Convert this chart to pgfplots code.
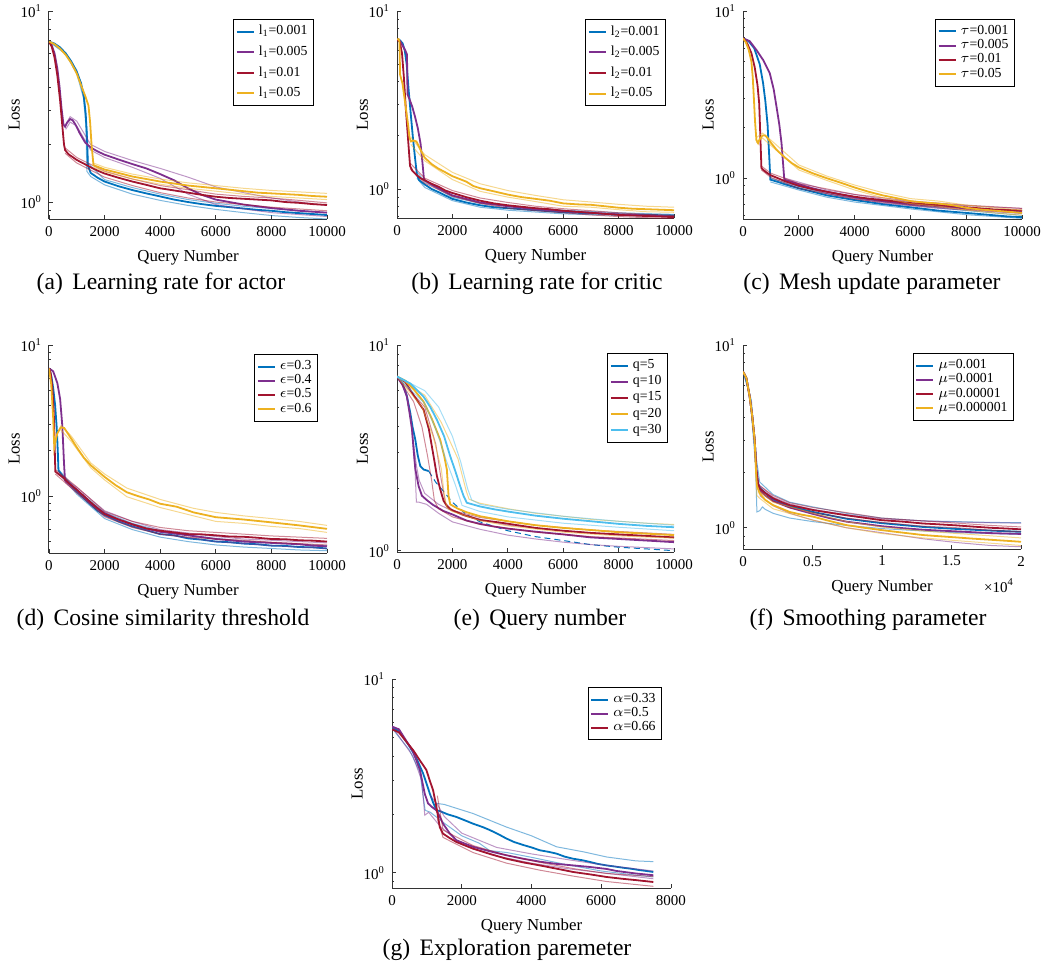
\documentclass[border=0pt]{standalone}
\usepackage{pgfplots}
\pgfplotsset{compat=1.18}
\usepackage{fontspec}
\setmainfont{Liberation Serif}

\definecolor{c1}{RGB}{0,114,189}
\definecolor{c2}{RGB}{126,47,142}
\definecolor{c3}{RGB}{162,20,47}
\definecolor{c4}{RGB}{237,177,32}
\definecolor{c5}{RGB}{77,190,238}

\pgfplotsset{
  every axis/.append style={
    scale only axis, xmin=0, scaled x ticks=false,
    axis x line*=bottom, axis y line*=left,
    axis line style={black!80, line width=0.5pt},
    tick align=inside, major tick length=2pt, minor tick length=1.2pt,
    tick style={black!80, line width=0.4pt},
    ytick={1,10}, yticklabels={10\textsuperscript{0},10\textsuperscript{1}},
    minor ytick={0.4,0.5,0.6,0.7,0.8,0.9,2,3,4,5,6,7,8,9},
    xticklabel style={font=\fontsize{7.5}{8}\selectfont},
    yticklabel style={font=\fontsize{7.5}{8}\selectfont},
    label style={font=\fontsize{8.4}{9}\selectfont},
    xlabel={Query Number}, ylabel={Loss},
    ylabel style={at={(axis description cs:-0.125,0.5)}, anchor=center},
    legend style={font=\fontsize{6.9}{7.5}\selectfont, draw=black, line width=0.5pt,
      anchor=north east, inner sep=1pt, row sep=-3pt,
      cells={anchor=west, inner xsep=1.5pt}},
  },
  every axis plot/.append style={line width=0.9pt},
  tenk/.style={xmax=10000, xtick={0,2000,4000,6000,8000,10000},
    xticklabels={0,2000,4000,6000,8000,10000}},
  bd/.style={line width=0.5pt, opacity=0.5},
}
\pgfplotsset{legend image code/.code={\draw[#1, line width=1pt, opacity=1] (0pt,0pt) -- (8.5pt,0pt);}}

\begin{document}
\begin{tikzpicture}
\useasboundingbox (0pt,0pt) rectangle (521pt,-482.5pt);

% (a)
\begin{semilogyaxis}[tenk, at={(24.5pt,-109.5pt)}, anchor=south west, width=139pt, height=104pt,
  ymin=0.815, ymax=10, legend style={at={(0.953,0.962)}, row sep=0pt}]
\addplot[forget plot,bd,color=c1] coordinates {(0,6.92)(600,6.05)(1000,4.9)(1250,3.7)(1380,2.3)(1400,1.6)(2000,1.31)(3000,1.19)(4000,1.1)(5000,1.03)(6000,0.985)(7000,0.95)(8000,0.925)(9000,0.9)(10000,0.88)};
\addplot[forget plot,bd,color=c1] coordinates {(0,6.92)(600,5.95)(1000,4.7)(1240,3.5)(1330,2.5)(1360,1.45)(1500,1.36)(2000,1.23)(3000,1.1)(4000,1.02)(5000,0.96)(6000,0.915)(7000,0.88)(8000,0.85)(9000,0.83)(10000,0.815)};
\addplot[color=c1] coordinates {(0,6.92)(200,6.75)(400,6.45)(600,6.0)(800,5.45)(1000,4.8)(1150,4.2)(1250,3.6)(1320,2.9)(1370,2.1)(1400,1.55)(1500,1.42)(1750,1.34)(2000,1.28)(2500,1.21)(3000,1.155)(3500,1.11)(4000,1.07)(4500,1.03)(5000,1.0)(5500,0.975)(6000,0.955)(6500,0.94)(7000,0.925)(7500,0.91)(8000,0.9)(8500,0.885)(9000,0.875)(9500,0.865)(10000,0.855)};
\addlegendentry{l\textsubscript{1}=0.001}
\addplot[forget plot,bd,color=c2] coordinates {(600,2.55)(760,2.8)(1000,2.65)(1500,2.0)(2000,1.84)(3000,1.65)(4000,1.5)(5000,1.35)(6000,1.2)(7000,1.12)(8000,1.05)(9000,1.0)(10000,0.96)};
\addplot[forget plot,bd,color=c2] coordinates {(600,2.4)(760,2.62)(1000,2.5)(1500,1.87)(2000,1.71)(3000,1.52)(4000,1.33)(5000,1.1)(6000,0.97)(7000,0.92)(8000,0.88)(9000,0.86)(10000,0.84)};
\addplot[color=c2] coordinates {(0,6.92)(100,6.6)(200,6.0)(300,5.0)(380,4.0)(450,3.1)(520,2.55)(580,2.48)(650,2.6)(760,2.72)(850,2.68)(950,2.55)(1100,2.3)(1300,2.05)(1500,1.93)(1750,1.84)(2000,1.77)(2500,1.67)(3000,1.58)(3500,1.5)(4000,1.4)(4500,1.3)(5000,1.18)(5500,1.09)(6000,1.03)(7000,0.97)(8000,0.93)(9000,0.9)(10000,0.88)};
\addlegendentry{l\textsubscript{1}=0.005}
\addplot[forget plot,bd,color=c3] coordinates {(580,1.92)(1000,1.71)(2000,1.45)(3000,1.32)(4000,1.22)(5000,1.16)(6000,1.1)(7000,1.07)(8000,1.05)(9000,1.02)(10000,0.99)};
\addplot[forget plot,bd,color=c3] coordinates {(580,1.8)(1000,1.6)(2000,1.35)(3000,1.22)(4000,1.12)(5000,1.05)(6000,1.0)(7000,0.97)(8000,0.94)(9000,0.92)(10000,0.9)};
\addplot[color=c3] coordinates {(0,6.92)(100,6.5)(200,5.7)(300,4.6)(400,3.4)(480,2.5)(540,2.0)(580,1.87)(700,1.78)(850,1.72)(1000,1.66)(1250,1.59)(1500,1.52)(1750,1.46)(2000,1.41)(2500,1.34)(3000,1.28)(3500,1.23)(4000,1.18)(4500,1.15)(5000,1.12)(5500,1.09)(6000,1.066)(6500,1.05)(7000,1.04)(7500,1.03)(8000,1.02)(8500,1.0)(9000,0.99)(9500,0.975)(10000,0.965)};
\addlegendentry{l\textsubscript{1}=0.01}
\addplot[forget plot,bd,color=c4] coordinates {(1600,1.6)(2000,1.52)(3000,1.4)(4000,1.32)(5000,1.26)(6000,1.22)(7000,1.18)(8000,1.15)(9000,1.13)(10000,1.11)};
\addplot[forget plot,bd,color=c4] coordinates {(1600,1.52)(2000,1.44)(3000,1.32)(4000,1.24)(5000,1.18)(6000,1.14)(7000,1.1)(8000,1.07)(9000,1.05)(10000,1.03)};
\addplot[color=c4] coordinates {(0,6.92)(200,6.7)(400,6.35)(600,5.9)(800,5.35)(1000,4.7)(1150,4.1)(1300,3.6)(1420,3.2)(1480,2.6)(1530,2.0)(1600,1.56)(1800,1.52)(2000,1.48)(2500,1.42)(3000,1.36)(3500,1.32)(4000,1.28)(4500,1.25)(5000,1.22)(5500,1.2)(6000,1.18)(6500,1.16)(7000,1.14)(7500,1.12)(8000,1.11)(8500,1.1)(9000,1.09)(9500,1.075)(10000,1.066)};
\addlegendentry{l\textsubscript{1}=0.05}
\end{semilogyaxis}

% (b)
\begin{semilogyaxis}[tenk, at={(198.5pt,-109pt)}, anchor=south west, width=138.5pt, height=103.5pt,
  ymin=0.687, ymax=10, legend style={at={(0.971,0.961)}, row sep=0pt}]
\addplot[forget plot,bd,color=c1] coordinates {(720,1.25)(1000,1.1)(2000,0.9)(3000,0.83)(4000,0.8)(6000,0.76)(8000,0.735)(10000,0.72)};
\addplot[forget plot,bd,color=c1] coordinates {(720,1.15)(1000,1.02)(2000,0.86)(3000,0.79)(4000,0.76)(6000,0.725)(8000,0.71)(10000,0.70)};
\addplot[color=c1] coordinates {(0,6.93)(100,6.85)(200,6.6)(280,6.0)(350,5.0)(420,3.6)(500,2.6)(580,1.9)(650,1.5)(720,1.2)(800,1.12)(1000,1.06)(1250,1.0)(1500,0.96)(2000,0.88)(2500,0.84)(3000,0.81)(3500,0.79)(4000,0.78)(5000,0.76)(6000,0.74)(7000,0.73)(8000,0.72)(9000,0.715)(10000,0.71)};
\addlegendentry{l\textsubscript{2}=0.001}
\addplot[color=c2] coordinates {(0,6.93)(100,6.8)(200,6.4)(300,6.0)(360,5.7)(380,3.4)(450,3.2)(550,2.9)(650,2.55)(750,2.2)(850,1.8)(920,1.4)(970,1.15)(1000,1.12)(1250,1.06)(1500,1.01)(2000,0.92)(3000,0.84)(4000,0.8)(5000,0.77)(6000,0.75)(7000,0.735)(8000,0.72)(9000,0.71)(10000,0.70)};
\addlegendentry{l\textsubscript{2}=0.005}
\addplot[forget plot,bd,color=c3] coordinates {(470,1.4)(1000,1.15)(2000,0.98)(3000,0.89)(4000,0.84)(5000,0.8)(6000,0.775)(7000,0.755)(8000,0.735)(9000,0.72)(10000,0.71)};
\addplot[forget plot,bd,color=c3] coordinates {(470,1.3)(1000,1.08)(2000,0.91)(3000,0.83)(4000,0.78)(5000,0.755)(6000,0.735)(7000,0.715)(8000,0.7)(9000,0.69)(10000,0.68)};
\addplot[color=c3] coordinates {(0,6.93)(100,6.7)(180,5.8)(250,4.2)(320,2.8)(400,1.9)(470,1.35)(550,1.27)(700,1.2)(850,1.15)(1000,1.12)(1250,1.07)(1500,1.03)(1750,0.98)(2000,0.95)(2500,0.9)(3000,0.86)(3500,0.83)(4000,0.81)(4500,0.795)(5000,0.78)(5500,0.77)(6000,0.755)(6500,0.745)(7000,0.735)(7500,0.725)(8000,0.715)(8500,0.71)(9000,0.705)(9500,0.70)(10000,0.695)};
\addlegendentry{l\textsubscript{2}=0.01}
\addplot[forget plot,bd,color=c4] coordinates {(500,1.95)(1000,1.56)(2000,1.24)(3000,1.07)(4000,0.98)(5000,0.92)(6000,0.87)(7000,0.845)(8000,0.82)(9000,0.8)(10000,0.79)};
\addplot[forget plot,bd,color=c4] coordinates {(500,1.78)(1000,1.44)(2000,1.13)(3000,0.97)(4000,0.9)(5000,0.85)(6000,0.8)(7000,0.79)(8000,0.765)(9000,0.745)(10000,0.74)};
\addplot[color=c4] coordinates {(0,6.93)(60,6.95)(90,6.7)(110,4.4)(200,3.9)(300,3.0)(400,2.3)(450,1.95)(500,1.85)(600,1.87)(700,1.85)(800,1.72)(900,1.6)(1000,1.5)(1250,1.38)(1500,1.3)(1750,1.24)(2000,1.18)(2500,1.1)(2750,1.04)(3000,1.01)(3500,0.97)(4000,0.93)(4500,0.9)(5000,0.88)(5500,0.86)(6000,0.83)(6500,0.82)(7000,0.815)(7500,0.8)(8000,0.785)(8500,0.775)(9000,0.77)(9500,0.765)(10000,0.76)};
\addlegendentry{l\textsubscript{2}=0.05}
\end{semilogyaxis}

% (c)
\begin{semilogyaxis}[tenk, at={(371.5pt,-109.5pt)}, anchor=south west, width=139.5pt, height=104pt,
  ymin=0.57, ymax=10, legend style={at={(0.975,0.962)}}]
\addplot[forget plot,bd,color=c1] coordinates {(980,1.0)(2000,0.89)(3000,0.81)(4000,0.76)(6000,0.69)(8000,0.64)(10000,0.6)};
\addplot[forget plot,bd,color=c1] coordinates {(980,0.95)(2000,0.85)(3000,0.77)(4000,0.72)(6000,0.655)(8000,0.605)(10000,0.575)};
\addplot[color=c1] coordinates {(0,6.87)(200,6.6)(400,6.0)(600,4.8)(720,3.7)(800,2.9)(880,2.1)(940,1.35)(980,0.98)(1250,0.95)(1500,0.92)(2000,0.87)(2500,0.83)(3000,0.79)(3500,0.765)(4000,0.74)(4500,0.72)(5000,0.70)(5500,0.685)(6000,0.67)(6500,0.655)(7000,0.64)(7500,0.63)(8000,0.62)(8500,0.61)(9000,0.60)(9500,0.59)(10000,0.585)};
\addlegendentry{$\tau$=0.001}
\addplot[forget plot,bd,color=c2] coordinates {(1500,1.0)(3000,0.85)(5000,0.75)(7000,0.7)(8000,0.685)(9000,0.67)(10000,0.66)};
\addplot[forget plot,bd,color=c2] coordinates {(1500,0.96)(3000,0.81)(5000,0.71)(7000,0.66)(10000,0.615)};
\addplot[color=c2] coordinates {(0,6.87)(240,6.6)(480,5.85)(720,5.1)(960,4.24)(1100,3.4)(1200,2.68)(1300,2.1)(1380,1.62)(1440,1.2)(1480,0.98)(1750,0.95)(2000,0.92)(2500,0.87)(3000,0.83)(3500,0.8)(4000,0.77)(4500,0.75)(5000,0.73)(6000,0.7)(7000,0.68)(8000,0.66)(9000,0.645)(10000,0.635)};
\addlegendentry{$\tau$=0.005}
\addplot[forget plot,bd,color=c3] coordinates {(660,1.18)(1000,1.07)(2000,0.93)(4000,0.8)(6000,0.73)(8000,0.69)(10000,0.66)};
\addplot[forget plot,bd,color=c3] coordinates {(660,1.12)(1000,1.01)(2000,0.87)(4000,0.75)(6000,0.69)(8000,0.65)(10000,0.62)};
\addplot[color=c3] coordinates {(0,6.87)(150,6.4)(300,5.6)(420,4.6)(520,3.6)(580,2.8)(620,1.8)(660,1.15)(700,1.13)(850,1.08)(1000,1.04)(1250,1.0)(1500,0.96)(2000,0.9)(2500,0.86)(3000,0.83)(3500,0.8)(4000,0.775)(4500,0.755)(5000,0.74)(5500,0.725)(6000,0.71)(6500,0.7)(7000,0.69)(7500,0.68)(8000,0.67)(8500,0.66)(9000,0.65)(9500,0.645)(10000,0.64)};
\addlegendentry{$\tau$=0.01}
\addplot[forget plot,bd,color=c4] coordinates {(480,1.75)(700,1.86)(1000,1.69)(2000,1.2)(3000,1.03)(4000,0.91)(5000,0.82)(6000,0.755)(7000,0.73)(8000,0.69)(9000,0.665)(10000,0.645)};
\addplot[forget plot,bd,color=c4] coordinates {(480,1.63)(700,1.74)(1000,1.57)(2000,1.12)(3000,0.97)(4000,0.85)(5000,0.765)(6000,0.705)(7000,0.68)(8000,0.645)(9000,0.62)(10000,0.6)};
\addplot[color=c4] coordinates {(0,6.87)(100,6.5)(200,5.9)(300,5.0)(350,4.0)(390,3.0)(430,2.2)(480,1.69)(540,1.62)(600,1.72)(700,1.8)(800,1.8)(900,1.72)(1000,1.63)(1200,1.48)(1500,1.33)(1750,1.23)(2000,1.16)(2500,1.07)(3000,1.0)(3500,0.94)(4000,0.88)(4500,0.83)(5000,0.79)(5500,0.76)(6000,0.73)(6500,0.715)(7000,0.705)(7500,0.69)(8000,0.665)(8500,0.65)(9000,0.64)(9500,0.63)(10000,0.62)};
\addlegendentry{$\tau$=0.05}
\end{semilogyaxis}

% (d)
\begin{semilogyaxis}[tenk, at={(24.5pt,-276.5pt)}, anchor=south west, width=139pt, height=104pt,
  ymin=0.42, ymax=10, legend style={at={(0.968,0.957)}}]
\addplot[forget plot,bd,color=c1] coordinates {(340,1.5)(1000,1.1)(2000,0.78)(3000,0.66)(4000,0.59)(5000,0.55)(6000,0.525)(7000,0.505)(8000,0.49)(9000,0.48)(10000,0.47)};
\addplot[forget plot,bd,color=c1] coordinates {(340,1.42)(1000,1.03)(2000,0.71)(3000,0.6)(4000,0.535)(5000,0.5)(6000,0.475)(7000,0.46)(8000,0.45)(9000,0.44)(10000,0.435)};
\addplot[color=c1] coordinates {(0,7.0)(80,6.3)(150,5.2)(220,4.0)(280,2.8)(320,1.9)(340,1.48)(500,1.35)(750,1.2)(1000,1.07)(1250,0.97)(1500,0.88)(1750,0.8)(2000,0.75)(2500,0.68)(3000,0.63)(3500,0.595)(4000,0.56)(4500,0.55)(5000,0.525)(5500,0.515)(6000,0.5)(6500,0.495)(7000,0.485)(7500,0.48)(8000,0.47)(8500,0.468)(9000,0.46)(9500,0.458)(10000,0.45)};
\addlegendentry{$\epsilon$=0.3}
\addplot[forget plot,bd,color=c2] coordinates {(576,1.3)(1000,1.14)(2000,0.8)(3000,0.68)(4000,0.6)(5000,0.57)(6000,0.54)(7000,0.52)(8000,0.51)(9000,0.5)(10000,0.49)};
\addplot[forget plot,bd,color=c2] coordinates {(576,1.24)(1000,1.06)(2000,0.74)(3000,0.63)(4000,0.56)(5000,0.53)(6000,0.5)(7000,0.485)(8000,0.47)(9000,0.46)(10000,0.45)};
\addplot[color=c2] coordinates {(0,7.0)(150,6.7)(300,5.6)(400,4.4)(480,2.9)(540,1.65)(576,1.27)(750,1.2)(1000,1.1)(1250,1.0)(1500,0.9)(1750,0.83)(2000,0.77)(2500,0.7)(3000,0.65)(3500,0.61)(4000,0.58)(4500,0.565)(5000,0.55)(5500,0.535)(6000,0.52)(6500,0.51)(7000,0.5)(7500,0.495)(8000,0.49)(8500,0.485)(9000,0.48)(9500,0.47)(10000,0.465)};
\addlegendentry{$\epsilon$=0.4}
\addplot[forget plot,bd,color=c3] coordinates {(230,1.5)(1000,1.15)(2000,0.79)(3000,0.68)(4000,0.62)(5000,0.59)(6000,0.575)(7000,0.56)(8000,0.545)(9000,0.535)(10000,0.525)};
\addplot[forget plot,bd,color=c3] coordinates {(230,1.4)(1000,1.05)(2000,0.73)(3000,0.62)(4000,0.56)(5000,0.535)(6000,0.52)(7000,0.51)(8000,0.495)(9000,0.485)(10000,0.475)};
\addplot[color=c3] coordinates {(0,7.0)(60,6.5)(120,5.2)(170,3.6)(200,2.4)(215,1.75)(230,1.45)(500,1.33)(750,1.2)(1000,1.1)(1250,1.0)(1500,0.91)(1750,0.83)(2000,0.76)(2500,0.7)(3000,0.65)(3500,0.61)(4000,0.59)(4500,0.575)(5000,0.56)(5500,0.558)(6000,0.55)(6500,0.54)(7000,0.538)(7500,0.53)(8000,0.52)(8500,0.518)(9000,0.51)(9500,0.507)(10000,0.50)};
\addlegendentry{$\epsilon$=0.5}
\addplot[forget plot,bd,color=c4] coordinates {(420,2.95)(800,2.5)(1500,1.66)(2000,1.4)(2800,1.13)(4000,0.95)(5200,0.83)(6000,0.78)(7000,0.74)(8000,0.71)(9000,0.68)(10000,0.64)};
\addplot[forget plot,bd,color=c4] coordinates {(420,2.75)(800,2.3)(1500,1.54)(2000,1.28)(2800,0.99)(4000,0.84)(5200,0.74)(6000,0.68)(7000,0.66)(8000,0.63)(9000,0.61)(10000,0.575)};
\addplot[color=c4] coordinates {(0,7.0)(80,5.5)(150,3.3)(190,2.1)(230,2.3)(300,2.6)(420,2.85)(550,2.82)(800,2.4)(1000,2.1)(1250,1.8)(1500,1.6)(2000,1.34)(2400,1.18)(2800,1.06)(3200,1.0)(3600,0.95)(4000,0.89)(4600,0.85)(5200,0.78)(6000,0.725)(7000,0.70)(8000,0.67)(9000,0.64)(10000,0.607)};
\addlegendentry{$\epsilon$=0.6}
\end{semilogyaxis}

% (e)
\begin{semilogyaxis}[tenk, at={(198.5pt,-276pt)}, anchor=south west, width=138.5pt, height=103.5pt,
  ymin=0.985, ymax=10, legend style={at={(0.978,0.961)}, row sep=-2pt}]
\addplot[color=c1] coordinates {(0,7.03)(200,6.5)(350,5.7)(480,4.67)(560,4.0)(660,3.47)(750,2.9)(840,2.58)(960,2.48)(1140,2.44)};
\addlegendentry{q=5}
\addplot[forget plot, color=c1, line width=0.5pt, densely dashed] coordinates {(1140,2.44)(1400,2.15)(1672,1.95)(2000,1.72)(2500,1.5)(3000,1.38)(4000,1.25)(5000,1.17)(6000,1.12)(7000,1.07)(8000,1.04)(9000,1.02)(10000,1.0)};
\addplot[forget plot,bd,color=c2] coordinates {(0,7.03)(300,6.0)(500,4.4)(650,2.5)(700,1.72)(800,1.72)(1070,1.68)(1500,1.52)(2000,1.38)(3000,1.27)(4000,1.19)(5000,1.14)(6000,1.1)(7000,1.07)(8000,1.05)(9000,1.035)(10000,1.02)};
\addplot[forget plot,bd,color=c2] coordinates {(600,3.3)(700,2.6)(800,2.2)(1000,1.9)(1500,1.68)(2000,1.56)(3000,1.42)(4000,1.33)(6000,1.25)(8000,1.19)(10000,1.16)};
\addplot[color=c2] coordinates {(0,7.03)(200,6.4)(360,5.6)(450,4.7)(540,3.9)(600,3.1)(660,2.5)(780,2.06)(900,1.85)(1080,1.76)(1300,1.67)(1672,1.56)(2000,1.5)(2516,1.40)(3000,1.35)(3500,1.31)(4000,1.28)(4920,1.24)(6000,1.2)(7000,1.16)(8000,1.14)(9000,1.12)(10000,1.10)};
\addlegendentry{q=10}
\addplot[forget plot,bd,color=c3] coordinates {(0,7.03)(600,5.3)(900,4.0)(1100,2.9)(1250,2.2)(1350,1.75)(1500,1.6)(2000,1.46)(3000,1.34)(5000,1.23)(7000,1.17)(10000,1.12)};
\addplot[forget plot,bd,color=c3] coordinates {(0,7.03)(1000,5.0)(1400,3.3)(1600,2.2)(1750,1.7)(2000,1.57)(3000,1.45)(5000,1.33)(7000,1.26)(10000,1.2)};
\addplot[color=c3] coordinates {(0,7.03)(300,6.6)(600,5.7)(800,5.2)(960,4.84)(1150,3.9)(1320,2.88)(1440,2.31)(1560,1.99)(1680,1.75)(1800,1.65)(1920,1.59)(2400,1.49)(3000,1.41)(3718,1.37)(5000,1.29)(6000,1.25)(7000,1.22)(8000,1.2)(9000,1.18)(10000,1.16)};
\addlegendentry{q=15}
\addplot[forget plot,bd,color=c4] coordinates {(0,7.03)(1000,5.7)(1600,4.2)(2200,2.8)(2500,1.95)(2600,1.78)(3000,1.7)(4000,1.6)(5000,1.52)(6000,1.47)(7000,1.42)(8000,1.39)(9000,1.36)(10000,1.34)};
\addplot[forget plot,bd,color=c4] coordinates {(0,7.03)(900,5.0)(1300,3.6)(1600,2.5)(1700,1.9)(1800,1.62)(2000,1.55)(3000,1.4)(4000,1.32)(6000,1.23)(8000,1.18)(10000,1.15)};
\addplot[color=c4] coordinates {(0,7.03)(300,6.7)(600,6.1)(960,5.3)(1250,4.4)(1560,3.46)(1700,2.9)(1800,2.48)(1860,1.85)(1920,1.68)(2200,1.6)(2500,1.54)(3000,1.47)(4000,1.39)(5000,1.33)(6000,1.29)(7000,1.26)(8000,1.23)(9000,1.21)(10000,1.19)};
\addlegendentry{q=20}
\addplot[forget plot,bd,color=c5] coordinates {(0,7.03)(1000,6.0)(1500,5.0)(2000,3.6)(2300,2.7)(2550,2.0)(2700,1.76)(3000,1.68)(4000,1.59)(6000,1.47)(8000,1.39)(10000,1.33)};
\addplot[forget plot,bd,color=c5] coordinates {(0,7.03)(1000,5.2)(1400,3.9)(1800,2.7)(2100,2.1)(2350,1.66)(3000,1.55)(4000,1.46)(6000,1.36)(8000,1.3)(10000,1.25)};
\addplot[color=c5] coordinates {(0,7.03)(480,6.5)(960,5.6)(1200,5.0)(1440,4.33)(1700,3.6)(1920,2.88)(2100,2.45)(2280,2.06)(2400,1.85)(2520,1.71)(3000,1.64)(3500,1.59)(4000,1.55)(5000,1.48)(6000,1.43)(7000,1.39)(8000,1.35)(9000,1.32)(10000,1.30)};
\addlegendentry{q=30}
\end{semilogyaxis}

% (f)
\begin{semilogyaxis}[at={(371.5pt,-274.5pt)}, anchor=south west, width=139pt, height=102pt,
  ymin=0.765, ymax=10, xmax=20000, xtick={0,5000,10000,15000,20000}, xticklabels={0,0.5,1,1.5,2},
  legend style={at={(0.975,0.961)}}]
\addplot[forget plot,bd,color=c1] coordinates {(0,7.15)(600,5.0)(960,2.4)(1200,1.78)(2160,1.52)(3360,1.38)(5040,1.3)(7440,1.2)(9960,1.13)(12960,1.09)(15370,1.08)(17770,1.07)(20000,1.065)};
\addplot[forget plot,bd,color=c1] coordinates {(0,7.15)(500,5.3)(900,2.2)(1000,1.22)(1200,1.24)(1400,1.3)(1600,1.26)(2160,1.2)(3360,1.13)(5040,1.08)(7440,1.03)(9960,0.99)(12960,0.96)(15370,0.94)(20000,0.92)};
\addplot[color=c1] coordinates {(0,7.15)(240,6.6)(480,5.22)(660,4.1)(840,3.02)(960,2.07)(1080,1.75)(1200,1.66)(1600,1.55)(2160,1.43)(3360,1.31)(5040,1.22)(7440,1.12)(9960,1.06)(12960,1.01)(15370,0.985)(17770,0.965)(20000,0.95)};
\addlegendentry{$\mu$=0.001}
\addplot[forget plot,bd,color=c2] coordinates {(1200,1.7)(2160,1.47)(3360,1.35)(5040,1.26)(7440,1.18)(9960,1.12)(12960,1.09)(15370,1.075)(17770,1.065)(20000,1.06)};
\addplot[forget plot,bd,color=c2] coordinates {(1200,1.5)(2160,1.32)(3360,1.2)(5040,1.1)(7440,1.0)(9960,0.94)(12960,0.87)(15370,0.83)(17770,0.8)(20000,0.787)};
\addplot[color=c2] coordinates {(0,7.15)(240,6.6)(480,5.22)(660,4.1)(840,3.02)(960,2.07)(1080,1.75)(1200,1.6)(1600,1.5)(2160,1.4)(3360,1.29)(5040,1.19)(6200,1.13)(7440,1.08)(8700,1.05)(9960,1.02)(11500,0.995)(12960,0.975)(15370,0.955)(17770,0.935)(20000,0.925)};
\addlegendentry{$\mu$=0.0001}
\addplot[forget plot,bd,color=c3] coordinates {(1200,1.7)(2160,1.5)(3360,1.37)(5040,1.29)(7440,1.21)(9960,1.13)(12960,1.09)(15370,1.06)(17770,1.03)(20000,1.01)};
\addplot[forget plot,bd,color=c3] coordinates {(1200,1.58)(2160,1.4)(3360,1.29)(5040,1.21)(7440,1.13)(9960,1.07)(12960,1.02)(15370,1.0)(17770,0.97)(20000,0.95)};
\addplot[color=c3] coordinates {(0,7.15)(240,6.6)(480,5.22)(660,4.1)(840,3.02)(960,2.07)(1080,1.75)(1200,1.64)(1600,1.55)(2160,1.45)(2800,1.38)(3360,1.33)(4200,1.29)(5040,1.25)(6200,1.21)(7440,1.17)(8700,1.135)(9960,1.10)(11500,1.08)(12960,1.055)(14000,1.045)(15370,1.03)(16500,1.015)(17770,1.0)(19000,0.99)(20000,0.98)};
\addlegendentry{$\mu$=0.00001}
\addplot[forget plot,bd,color=c4] coordinates {(1200,1.58)(2160,1.38)(5040,1.2)(7440,1.08)(9960,1.01)(12960,0.96)(15370,0.93)(20000,0.88)};
\addplot[forget plot,bd,color=c4] coordinates {(900,2.5)(1000,1.5)(1200,1.45)(2160,1.27)(5040,1.1)(7440,1.0)(9960,0.93)(12960,0.88)(15370,0.85)(20000,0.8)};
\addplot[color=c4] coordinates {(0,7.15)(240,6.6)(480,5.22)(660,4.1)(840,3.0)(940,2.0)(1000,1.7)(1200,1.54)(1600,1.42)(2160,1.33)(2800,1.27)(3360,1.22)(4200,1.18)(5040,1.15)(6200,1.09)(7440,1.034)(8700,1.0)(9960,0.971)(11500,0.94)(12960,0.912)(14000,0.9)(15370,0.885)(16500,0.872)(17770,0.86)(19000,0.848)(20000,0.838)};
\addlegendentry{$\mu$=0.000001}
\end{semilogyaxis}
\node[anchor=base east, font=\fontsize{7.5}{8}\selectfont] at (510.5pt,-296pt) {×10\textsuperscript{4}};

% (g)
\begin{semilogyaxis}[at={(196pt,-444pt)}, anchor=south west, width=139.5pt, height=104.5pt,
  ymin=0.833, ymax=10, xmax=8000, xtick={0,2000,4000,6000,8000}, xticklabels={0,2000,4000,6000,8000},
  legend style={at={(0.968,0.962)}}]
\addplot[forget plot,bd,color=c1] coordinates {(1273,2.28)(1500,2.25)(2325,2.02)(3282,1.72)(4000,1.55)(4718,1.36)(5500,1.28)(6153,1.205)(7000,1.15)(7493,1.14)};
\addplot[forget plot,bd,color=c1] coordinates {(0,5.57)(500,4.3)(800,3.3)(950,2.1)(1100,2.05)(1500,1.8)(2000,1.55)(2500,1.42)(2800,1.3)(3300,1.27)(4000,1.2)(5000,1.1)(6000,1.02)(7000,0.97)(7493,0.95)};
\addplot[color=c1] coordinates {(0,5.57)(200,5.4)(507,4.48)(700,3.9)(890,3.26)(1000,2.85)(1081,2.57)(1180,2.3)(1273,2.10)(1370,2.08)(1600,2.0)(1847,1.94)(2100,1.86)(2325,1.79)(2600,1.72)(2804,1.66)(3050,1.58)(3282,1.50)(3500,1.44)(3760,1.39)(4000,1.35)(4239,1.305)(4500,1.28)(4718,1.254)(4950,1.21)(5196,1.18)(5450,1.16)(5675,1.136)(5900,1.11)(6153,1.09)(6400,1.075)(6632,1.06)(6900,1.045)(7110,1.03)(7300,1.02)(7493,1.008)};
\addlegendentry{$\alpha$=0.33}
\addplot[forget plot,bd,color=c2] coordinates {(0,5.68)(600,4.0)(850,3.0)(940,1.98)(1050,2.05)(1400,1.72)(2000,1.4)(3000,1.22)(4000,1.12)(5000,1.05)(6000,1.0)(7493,0.93)};
\addplot[forget plot,bd,color=c2] coordinates {(1100,2.5)(1300,2.25)(1500,1.95)(2000,1.6)(3000,1.35)(4000,1.25)(5000,1.17)(6000,1.1)(7493,1.02)};
\addplot[color=c2] coordinates {(0,5.68)(200,5.5)(603,4.22)(800,3.4)(938,2.56)(1033,2.28)(1150,2.18)(1273,2.10)(1370,1.95)(1464,1.79)(1650,1.6)(1847,1.47)(2100,1.41)(2325,1.36)(2800,1.29)(3282,1.23)(3760,1.18)(4239,1.14)(4718,1.11)(5196,1.09)(5675,1.07)(6153,1.045)(6440,1.02)(7000,0.99)(7493,0.97)};
\addlegendentry{$\alpha$=0.5}
\addplot[forget plot,bd,color=c3] coordinates {(1300,2.5)(1464,1.66)(2325,1.38)(3282,1.23)(4239,1.13)(5196,1.05)(6153,0.99)(7493,0.955)};
\addplot[forget plot,bd,color=c3] coordinates {(1300,1.9)(1464,1.52)(2325,1.27)(3282,1.12)(4239,1.03)(5196,0.96)(6153,0.9)(7493,0.85)};
\addplot[color=c3] coordinates {(0,5.5)(200,5.3)(603,4.3)(800,3.8)(986,3.39)(1080,3.0)(1177,2.67)(1273,2.19)(1370,1.72)(1464,1.59)(1650,1.51)(1847,1.44)(2100,1.38)(2325,1.33)(2800,1.25)(3282,1.18)(3760,1.13)(4239,1.09)(4700,1.05)(5196,1.008)(5675,0.98)(6153,0.95)(6600,0.93)(7000,0.915)(7493,0.895)};
\addlegendentry{$\alpha$=0.66}
\end{semilogyaxis}

\node[font=\fontsize{11.8}{12}\selectfont] at (80.5pt,-142pt) {(a)\hspace{0.4em}Learning rate for actor};
\node[font=\fontsize{11.8}{12}\selectfont] at (268.5pt,-142pt) {(b)\hspace{0.4em}Learning rate for critic};
\node[font=\fontsize{11.8}{12}\selectfont] at (436pt,-142pt) {(c)\hspace{0.4em}Mesh update parameter};
\node[font=\fontsize{11.8}{12}\selectfont] at (81.5pt,-310pt) {(d)\hspace{0.4em}Cosine similarity threshold};
\node[font=\fontsize{11.8}{12}\selectfont] at (270pt,-310pt) {(e)\hspace{0.4em}Query number};
\node[font=\fontsize{11.8}{12}\selectfont] at (434pt,-310pt) {(f)\hspace{0.4em}Smoothing parameter};
\node[font=\fontsize{11.8}{12}\selectfont] at (253.5pt,-475pt) {(g)\hspace{0.4em}Exploration paremeter};
\end{tikzpicture}
\end{document}
